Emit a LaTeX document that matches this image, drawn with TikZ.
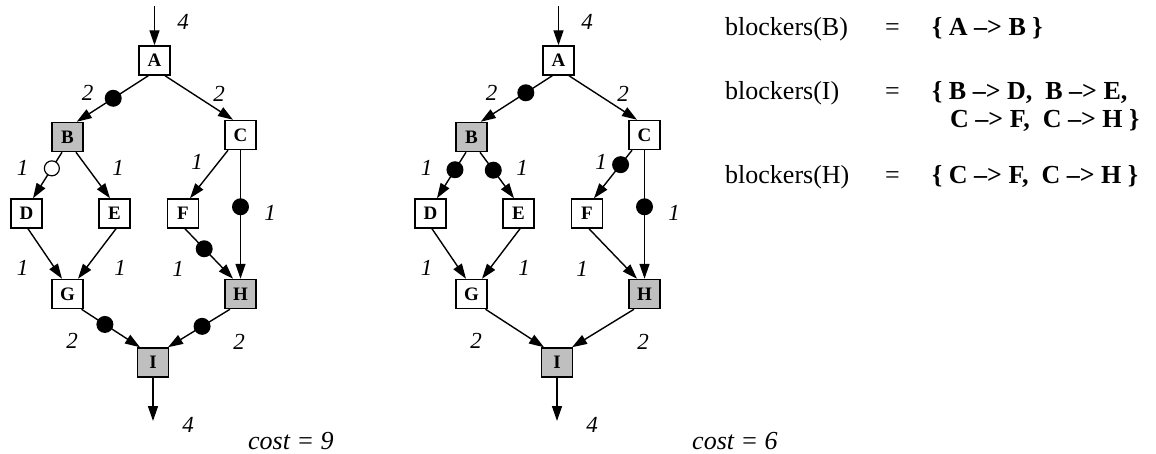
\documentclass[tikz,border=0pt]{standalone}
\usepackage{fontspec}
\setmainfont{Liberation Serif}
\usetikzlibrary{arrows.meta}
\begin{document}
\begin{tikzpicture}[x=1pt,y=-1pt,
  nbox/.style={draw, line width=1.5pt, fill=white, minimum width=31pt, minimum height=29pt, inner sep=0pt, font=\fontsize{19}{21}\selectfont\bfseries},
  shaded/.style={nbox, fill=black!25},
  conn/.style={line width=1.4pt, -{Triangle[length=15pt,width=10pt]}},
  blob/.style={circle, fill=black, inner sep=0pt, minimum size=17pt},
  hollow/.style={circle, draw, fill=white, line width=1.2pt, inner sep=0pt, minimum size=15pt},
  wt/.style={font=\fontsize{23}{26}\selectfont\itshape, inner sep=0pt},
  txt/.style={font=\fontsize{26}{30}\selectfont, inner sep=0pt, anchor=base west},
  costtxt/.style={font=\fontsize{26}{30}\selectfont\itshape, inner sep=0pt, anchor=base west}
]
\useasboundingbox (0,0) rectangle (1156,453);

% ---------------- left diagram ----------------
\node[nbox]   (lA) at (154.5,60.5) {A};
\node[shaded] (lB) at (67.5,137)  {B};
\node[nbox]   (lC) at (240.5,135) {C};
\node[nbox]   (lD) at (26.5,213.5) {D};
\node[nbox]   (lE) at (114.5,213.5) {E};
\node[nbox]   (lF) at (183,213.5) {F};
\node[nbox]   (lG) at (67.5,294) {G};
\node[shaded] (lH) at (240.5,294) {H};
\node[shaded] (lI) at (153,362.5) {I};
\coordinate (lin) at (154.5,6);
\coordinate (lout) at (153,421);

\draw[conn] (lin) -- (lA.north);
\draw[conn] ([xshift=-6.2pt]lA.south) -- node[blob,pos=0.49]{} ([xshift=9.2pt]lB.north);
\draw[conn] ([xshift=10.5pt]lA.south) -- ([xshift=-7.5pt]lC.north);
\draw[conn] ([xshift=-5.5pt]lB.south) -- node[hollow,pos=0.35]{} ([xshift=6.5pt]lD.north);
\draw[conn] ([xshift=8.5pt]lB.south) -- ([xshift=-4.5pt]lE.north);
\draw[conn] ([xshift=-12.5pt]lC.south) -- ([xshift=7pt]lF.north);
\draw[conn] (lC.south) -- node[blob,pos=0.44]{} (lH.north);
\draw[conn] ([xshift=1.5pt]lD.south) -- ([xshift=-5.5pt]lG.north);
\draw[conn] ([xshift=1.5pt]lE.south) -- ([xshift=10.5pt]lG.north);
\draw[conn] ([xshift=2pt]lF.south) -- node[blob,pos=0.4]{} ([xshift=-7.5pt]lH.north);
\draw[conn] ([xshift=14pt]lG.south) -- node[blob,pos=0.4]{} ([xshift=-13pt]lI.north);
\draw[conn] ([xshift=-10.5pt]lH.south) -- node[blob,pos=0.45]{} ([xshift=15pt]lI.north);
\draw[conn] (lI.south) -- (lout);

\node[wt] (lw0) at (183,22) {4};
\node[wt] (lw1) at (87.5,92.5) {2};
\node[wt] (lw2) at (219,94) {2};
\node[wt] (lw3) at (22.5,167.5) {1};
\node[wt] (lw4) at (118,168) {1};
\node[wt] (lw5) at (197,162) {1};
\node[wt] (lw6) at (270,213) {1};
\node[wt] (lw7) at (22.5,267.5) {1};
\node[wt] (lw8) at (120,268) {1};
\node[wt] (lw9) at (178,269) {1};
\node[wt] (lw10) at (72,341) {2};
\node[wt] (lw11) at (239,341.5) {2};
\node[wt] (lw12) at (188,425) {4};
\node[costtxt] (lcost) at (248,449) {cost = 9};

% ---------------- right diagram ----------------
\begin{scope}[xshift=404pt]
\node[nbox]   (rA) at (154.5,60.5) {A};
\node[shaded] (rB) at (67.5,137)  {B};
\node[nbox]   (rC) at (240.5,135) {C};
\node[nbox]   (rD) at (26.5,213.5) {D};
\node[nbox]   (rE) at (114.5,213.5) {E};
\node[nbox]   (rF) at (183,213.5) {F};
\node[nbox]   (rG) at (67.5,294) {G};
\node[shaded] (rH) at (240.5,294) {H};
\node[shaded] (rI) at (153,362.5) {I};
\coordinate (rin) at (154.5,6);
\coordinate (rout) at (153,421);

\draw[conn] (rin) -- (rA.north);
\draw[conn] ([xshift=-6.2pt]rA.south) -- node[blob,pos=0.37]{} ([xshift=9.2pt]rB.north);
\draw[conn] ([xshift=10.5pt]rA.south) -- ([xshift=-7.5pt]rC.north);
\draw[conn] ([xshift=-5.5pt]rB.south) -- node[blob,pos=0.38]{} ([xshift=6.5pt]rD.north);
\draw[conn] ([xshift=8.5pt]rB.south) -- node[blob,pos=0.39]{} ([xshift=-4.5pt]rE.north);
\draw[conn] ([xshift=-12.5pt]rC.south) -- node[blob,pos=0.3]{} ([xshift=7pt]rF.north);
\draw[conn] (rC.south) -- node[blob,pos=0.44]{} (rH.north);
\draw[conn] ([xshift=1.5pt]rD.south) -- ([xshift=-5.5pt]rG.north);
\draw[conn] ([xshift=1.5pt]rE.south) -- ([xshift=10.5pt]rG.north);
\draw[conn] ([xshift=2pt]rF.south) -- ([xshift=-7.5pt]rH.north);
\draw[conn] ([xshift=14pt]rG.south) -- ([xshift=-13pt]rI.north);
\draw[conn] ([xshift=-10.5pt]rH.south) -- ([xshift=15pt]rI.north);
\draw[conn] (rI.south) -- (rout);

\node[wt] (rw0) at (183,22) {4};
\node[wt] (rw1) at (87.5,92.5) {2};
\node[wt] (rw2) at (219,94) {2};
\node[wt] (rw3) at (22.5,167.5) {1};
\node[wt] (rw4) at (118,168) {1};
\node[wt] (rw5) at (197,162) {1};
\node[wt] (rw6) at (270,213) {1};
\node[wt] (rw7) at (22.5,267.5) {1};
\node[wt] (rw8) at (120,268) {1};
\node[wt] (rw9) at (178,269) {1};
\node[wt] (rw10) at (72,341) {2};
\node[wt] (rw11) at (239,341.5) {2};
\node[wt] (rw12) at (188,425) {4};
\end{scope}
\node[costtxt] (rcost) at (692,449) {cost = 6};

% ---------------- text block ----------------
\node[txt] (bB) at (725,35) {blockers(B)};
\node[txt] (eB) at (885,35) {=};
\node[txt] (vB) at (932,35) {\bfseries \{ A –> B \}};
\node[txt] (bI) at (725,99) {blockers(I)};
\node[txt] (eI) at (885,99) {=};
\node[txt] (vI) at (932,99) {\bfseries \{ B –> D,\ \ B –> E,};
\node[txt] (vI2) at (950,127) {\bfseries C –> F,\ \ C –> H \}};
\node[txt] (bH) at (725,183) {blockers(H)};
\node[txt] (eH) at (885,183) {=};
\node[txt] (vH) at (932,183) {\bfseries \{ C –> F,\ \ C –> H \}};
\end{tikzpicture}
\end{document}
